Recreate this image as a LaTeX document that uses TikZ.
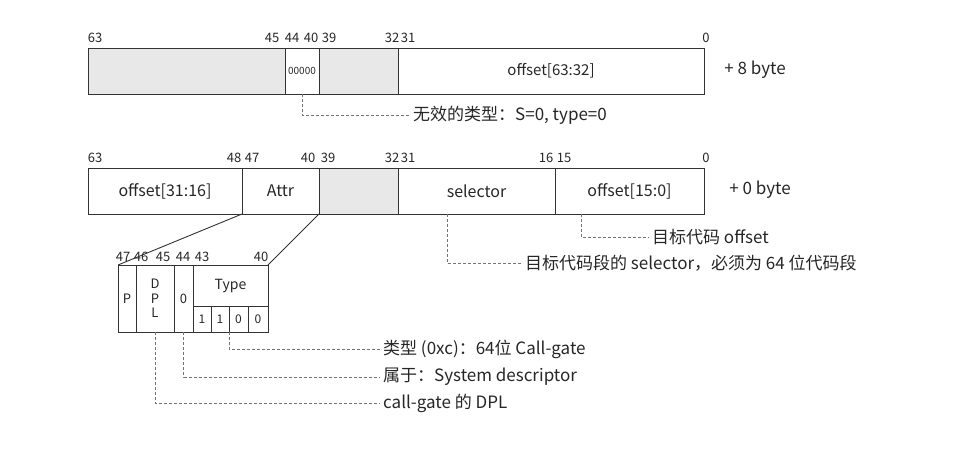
\documentclass[tikz,border=0pt]{standalone}
\usepackage{fontspec}
\setmainfont{Noto Sans CJK SC}

\begin{document}
\begin{tikzpicture}[x=1pt,y=-1pt,
  fld/.style n args={2}{draw=black!80,line width=1pt,minimum width=#1pt,minimum height=#2pt,anchor=north west,inner sep=0pt,outer sep=0pt,text=black!85,font=\fontsize{16}{18}\selectfont},
  bit/.style={inner sep=1pt,text=black!85,font=\fontsize{13}{15}\selectfont},
  note/.style={anchor=west,inner sep=3pt,text=black!85,font=\fontsize{17}{19}\selectfont},
  lead/.style={densely dashed,black!55,line width=0.6pt},
  zoomline/.style={black!80,line width=0.9pt}]
\useasboundingbox (0,0) rectangle (961,448);
% +8 byte
\node[fld={197}{46},fill=gray!18] (hi8) at (88,48) {};
\node[fld={34}{46},font=\fontsize{10}{11}\selectfont] (zero8) at (285,48) {00000};
\node[fld={79}{46},fill=gray!18] (rsv8) at (319,48) {};
\node[fld={306}{46},font=\fontsize{15}{17}\selectfont] (off63) at (398,48) {offset[63:32]};
\node[note,anchor=center] (b8) at (755,70) {+ 8 byte};
\foreach \x/\1 in %
{95/63,272/45,292/44,311/40,329/39,392/32,408/31,706/0} {
   \node[bit] (r1-\1) at (\x,38) {\1};
}
% +0 byte
\node[fld={154}{46}] (off31) at (88,168) {offset[31:16]};
\node[fld={77}{46}] (attr) at (242,168) {Attr};
\node[fld={79}{46},fill=gray!18] (rsv0) at (319,168) {};
\node[fld={157}{46}] (sel) at (398,168) {selector};
\node[fld={149}{46}] (off15) at (555,168) {offset[15:0]};
\node[note,anchor=center] (b0) at (760,190) {+ 0 byte};
\foreach \x/\1 in %
{95/63,234/48,252/47,308/40,328/39,392/32,408/31,546/16,564/15,706/0} {
   \node[bit] (r2-\1) at (\x,158) {\1};
}
% Attr
\node[fld={18}{67},font=\fontsize{13}{14}\selectfont] (pbit) at (118,265) {P};
\node[fld={38}{67},align=center,font=\fontsize{13}{14.5}\selectfont] (dpl) at (136,265) {D\\P\\L};
\node[fld={19}{67},font=\fontsize{13}{14}\selectfont] (zbit) at (174,265) {0};
\node[fld={75}{41},font=\fontsize{14}{15}\selectfont] (typ) at (193,265) {Type};
\foreach \x/\w/\n/\1 in %
{193/18/1/1,211/18/2/1,229/19/3/0,248/20/4/0} {
   \node[fld={\w}{26},font=\fontsize{12}{13}\selectfont] (c\n) at (\x,306) {\1};
}
\foreach \x/\1 in %
{123/47,141/46,163/45,183/44,202/43,261/40} {
   \node[bit] (r3-\1) at (\x,257) {\1};
}
\draw[zoomline] (attr.south west) -- (pbit.north west);
\draw[zoomline] (attr.south east) -- (typ.north east);
% notes
\node[note] (t8) at (410,115) {无效的类型：S=0, type=0};
\node[note] (tOff) at (649,237) {目标代码 offset};
\node[note] (tSel) at (522,263) {目标代码段的 selector，必须为 64 位代码段};
\node[note] (tType) at (380,349) {类型 (0xc)：64位 Call-gate};
\node[note] (tSys) at (380,377) {属于：System descriptor};
\node[note] (tDpl) at (380,403) {call-gate 的 DPL};
\draw[lead] (zero8.south) |- (t8.west);
\draw[lead] ([xshift=26pt]off15.south west) |- (tOff.west);
\draw[lead] ([xshift=49pt]sel.south west) |- (tSel.west);
\draw[lead] (c2.south east) |- (tType.west);
\draw[lead] (zbit.south) |- (tSys.west);
\draw[lead] (dpl.south) |- (tDpl.west);
\end{tikzpicture}
\end{document}
